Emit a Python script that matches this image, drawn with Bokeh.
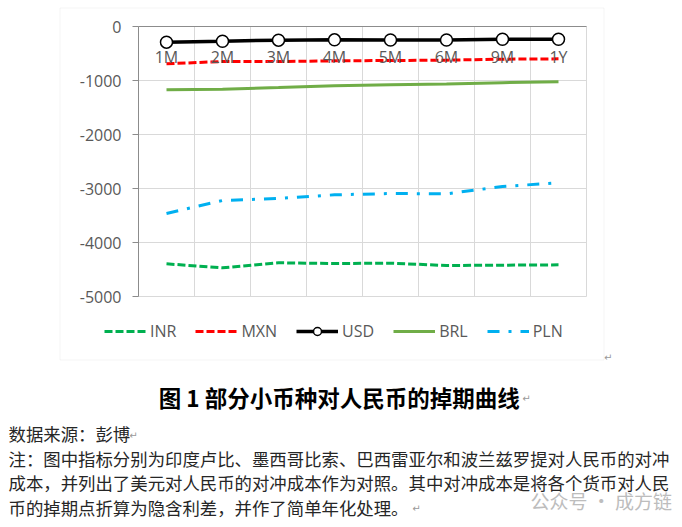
from bokeh.plotting import figure
from bokeh.models import (Range1d, FixedTicker, Legend, LegendItem, Label,
                          BoxAnnotation)
from bokeh.embed import file_html
from bokeh.resources import INLINE

# ---- data ----
tenors = ["1M", "2M", "3M", "4M", "5M", "6M", "9M", "1Y"]
inr = [-4395, -4469, -4376, -4389, -4383, -4426, -4420, -4414]
mxn = [-691, -648, -648, -636, -630, -623, -605, -599]
usd = [-290, -272, -253, -247, -250, -250, -235, -235]
brl = [-1173, -1160, -1130, -1095, -1080, -1065, -1040, -1025]
pln = [-3463, -3222, -3185, -3117, -3093, -3099, -2963, -2895]
y_ticks = [0, -1000, -2000, -3000, -4000, -5000]
y_tick_labels = ["0", "-1000", "-2000", "-3000", "-4000", "-5000"]

caption = "图 1 部分小币种对人民币的掉期曲线"
notes = [
    "数据来源：彭博",
    "注：图中指标分别为印度卢比、墨西哥比索、巴西雷亚尔和波兰兹罗提对人民币的对冲",
    "成本，并列出了美元对人民币的对冲成本作为对照。其中对冲成本是将各个货币对人民",
    "币的掉期点折算为隐含利差，并作了简单年化处理。",
]
watermark = "公众号 · 成方链"

n = len(tenors)
xs = [i + 0.5 for i in range(n)]
bounds = list(range(n + 1))
y_top, y_bot = y_ticks[0], y_ticks[-1]

# ---- layout (pixels) ----
W, H = 680, 525
PX_L, PX_R = 138, 586      # plot area left/right
PY_T, PY_B = 26, 296       # plot area top/bottom


def xd(px):
    return (px - PX_L) * n / (PX_R - PX_L)


def yd(py):
    return y_top + (py - PY_T) * (y_bot - y_top) / (PY_B - PY_T)


FONT = "Open Sans"
CJK = "Noto Sans CJK SC"
GRAY = "#595959"
GRID = "#d9d9d9"
AXIS = "#8c8c8c"

p = figure(width=W, height=H,
           x_range=Range1d(xd(0), xd(W)), y_range=Range1d(yd(H), yd(0)),
           output_backend="svg", toolbar_location=None,
           min_border=0, min_border_left=0, min_border_right=0,
           min_border_top=0, min_border_bottom=0)
p.title.visible = False
p.outline_line_color = None
p.background_fill_color = "white"
p.border_fill_color = "white"
p.xgrid.visible = False
p.ygrid.visible = False

# x axis: sits on the zero line, category labels under it
p.xaxis.fixed_location = y_top
p.xaxis.bounds = (0, n)
p.xaxis.ticker = FixedTicker(ticks=xs)
p.xaxis.major_label_overrides = {x: t for x, t in zip(xs, tenors)}
p.xaxis.axis_line_color = AXIS
p.xaxis.major_tick_out = 0
p.xaxis.major_tick_in = 0
p.xaxis.minor_tick_line_color = None
p.xaxis.major_label_standoff = 19
p.xaxis.major_label_text_font = FONT
p.xaxis.major_label_text_font_size = "16px"
p.xaxis.major_label_text_color = GRAY

# y axis
p.yaxis.fixed_location = 0
p.yaxis.bounds = (y_bot, y_top)
p.yaxis.ticker = FixedTicker(ticks=y_ticks)
p.yaxis.major_label_overrides = {t: l for t, l in zip(y_ticks, y_tick_labels)}
p.yaxis.axis_line_color = AXIS
p.yaxis.major_tick_line_color = AXIS
p.yaxis.major_tick_out = 6
p.yaxis.major_tick_in = 0
p.yaxis.minor_tick_line_color = None
p.yaxis.major_label_standoff = 11
p.yaxis.major_label_text_font = FONT
p.yaxis.major_label_text_font_size = "16px"
p.yaxis.major_label_text_color = GRAY

# grid lines limited to the plot area
p.segment(x0=bounds, y0=[y_bot] * len(bounds), x1=bounds,
          y1=[y_top] * len(bounds), line_color=GRID, line_width=1)
p.segment(x0=[0] * len(y_ticks), y0=y_ticks, x1=[n] * len(y_ticks),
          y1=y_ticks, line_color=GRID, line_width=1)

r_inr = p.line(xs, inr, line_color="#00b050", line_width=3, line_dash="8 3")
r_mxn = p.line(xs, mxn, line_color="#ff0000", line_width=3, line_dash="8 3")
r_brl = p.line(xs, brl, line_color="#70ad47", line_width=3)
r_pln = p.line(xs, pln, line_color="#00b0f0", line_width=3,
               line_dash="12 9 3 9")
r_usd = p.line(xs, usd, line_color="black", line_width=3.5)
r_usd_m = p.scatter(xs, usd, marker="circle", size=12, fill_color="white",
                    line_color="black", line_width=1.5)

legend = Legend(items=[
    LegendItem(label="INR", renderers=[r_inr]),
    LegendItem(label="MXN", renderers=[r_mxn]),
    LegendItem(label="USD", renderers=[r_usd, r_usd_m]),
    LegendItem(label="BRL", renderers=[r_brl]),
    LegendItem(label="PLN", renderers=[r_pln]),
], orientation="horizontal", location=(104, H - 341.7),
    glyph_width=42, glyph_height=20, label_height=20, label_standoff=4,
    spacing=19, padding=0, margin=0, border_line_color=None,
    background_fill_alpha=0, label_text_font=FONT,
    label_text_font_size="16px", label_text_color=GRAY)
p.add_layout(legend)

# chart-area border
p.add_layout(BoxAnnotation(left=xd(59.5), right=xd(603.5),
                           top=yd(7.5), bottom=yd(359.5),
                           fill_color=None, fill_alpha=0,
                           line_color=GRID, line_width=1))

# caption and notes
p.add_layout(Label(x=xd(338.7), y=yd(396.3), text=caption, text_font=CJK,
                   text_font_style="bold", text_font_size="22.5px",
                   text_color="black", text_align="center",
                   text_baseline="middle"))
note_py = [433.3, 458.3, 481.7, 506.5]
for t, py in zip(notes, note_py):
    p.add_layout(Label(x=xd(8), y=yd(py), text=t, text_font=CJK,
                       text_font_size="17.4px", text_color="#262626",
                       text_align="left", text_baseline="middle"))
p.add_layout(Label(x=xd(530), y=yd(500), text=watermark, text_font=CJK,
                   text_font_size="19px", text_color="#bdbdbd",
                   text_align="left", text_baseline="middle"))
for px, py in [(607.7, 356.7), (526, 398), (133, 434.5), (416, 508)]:
    p.add_layout(Label(x=xd(px), y=yd(py), text="↵", text_font="DejaVu Sans",
                       text_font_size="10px", text_color="#999999",
                       text_align="center", text_baseline="middle"))

open("out.html", "w").write(file_html(p, INLINE))
